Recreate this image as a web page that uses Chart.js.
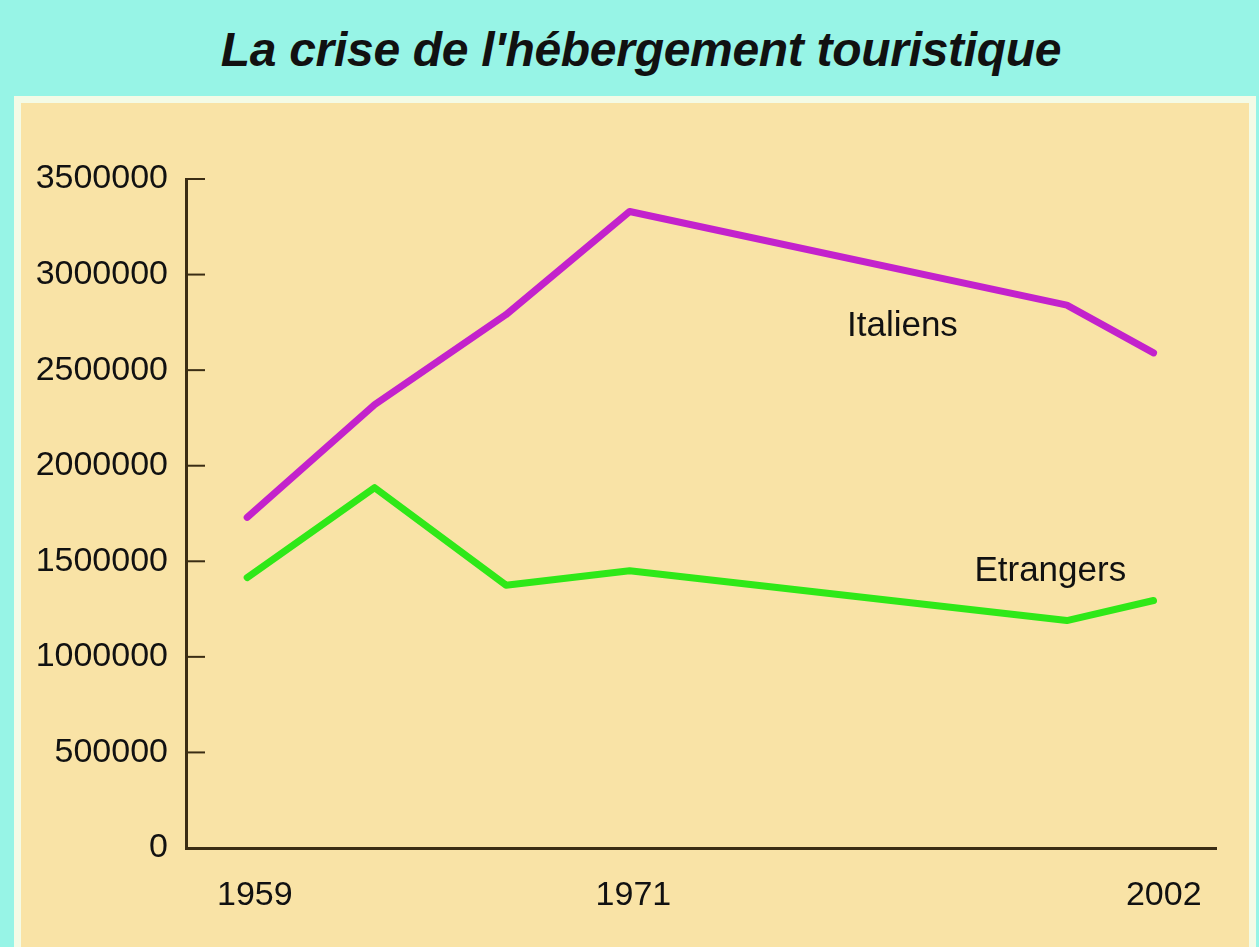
<!DOCTYPE html>
<html>
<head>
<meta charset="utf-8">
<script src="https://cdn.jsdelivr.net/npm/chart.js@4"></script>
<style>
    body { margin: 0; width: 1259px; height: 947px; overflow: hidden; background: #97f4e6; font-family: 'Liberation Sans', Arial, sans-serif; }
    .title {
        position: absolute; left: 0; top: 22px; width: 1282px; text-align: center;
        font-size: 48px; font-weight: bold; font-style: italic; color: #111;
        letter-spacing: -0.3px;
    }
    .panel {
        position: absolute; left: 14px; top: 96px; width: 1228px; height: 860px;
        background: #f9e3a6; border: 7px solid #f4fbe6;
    }
    #wrap { position: absolute; left: 0; top: 0; width: 1259px; height: 947px; }
</style>
</head>
<body>
<div class="title">La crise de l'hébergement touristique</div>
<div class="panel"></div>
<div id="wrap"><canvas id="chart"></canvas></div>

<script>
// positions of the data points along the x axis (the axis is not linear in years)
const xSlots = [0, 1, 2.03, 3, 6.43, 7.11];
const italiens = [1730000, 2320000, 2790000, 3330000, 2840000, 2590000];
const etrangers = [1415000, 1885000, 1375000, 1450000, 1190000, 1295000];

// only three years are labelled under the axis
const xTickSlots = [0.06, 3.03, 7.19];
const xTickLabels = ['1959', '1971', '2002'];

const yTicks = [0, 500000, 1000000, 1500000, 2000000, 2500000, 3000000, 3500000];

// series names written next to the lines (x slot, y value)
const seriesNotes = [
    { text: 'Italiens', x: 5.14, y: 2730000 },
    { text: 'Etrangers', x: 6.3, y: 1445000 }
];

const axisColor = '#3b2d14';
const font = "'Liberation Sans', Arial, sans-serif";

const toPoints = (vals) => vals.map((v, i) => ({ x: xSlots[i], y: v }));

// short tick marks pointing into the plot, plus the series names
const innerTicks = {
    id: 'innerTicks',
    afterDatasetsDraw(chart) {
        const { ctx, chartArea, scales } = chart;
        ctx.save();
        ctx.strokeStyle = axisColor;
        ctx.lineWidth = 2;
        scales.y.ticks.forEach(t => {
            if (t.value === 0) return;
            const y = scales.y.getPixelForValue(t.value);
            ctx.beginPath();
            ctx.moveTo(chartArea.left, y);
            ctx.lineTo(chartArea.left + 19, y);
            ctx.stroke();
        });
        ctx.fillStyle = '#111';
        ctx.font = `35px ${font}`;
        ctx.textAlign = 'center';
        ctx.textBaseline = 'middle';
        seriesNotes.forEach(n => {
            ctx.fillText(n.text, scales.x.getPixelForValue(n.x), scales.y.getPixelForValue(n.y));
        });
        ctx.restore();
    }
};

new Chart(document.getElementById('chart'), {
    type: 'line',
    data: {
        datasets: [
            {
                label: 'Italiens',
                data: toPoints(italiens),
                borderColor: '#c322cc',
                borderWidth: 7,
                pointRadius: 0,
                tension: 0,
                borderJoinStyle: 'round',
                borderCapStyle: 'round'
            },
            {
                label: 'Etrangers',
                data: toPoints(etrangers),
                borderColor: '#2fe818',
                borderWidth: 7,
                pointRadius: 0,
                tension: 0,
                borderJoinStyle: 'round',
                borderCapStyle: 'round'
            }
        ]
    },
    options: {
        responsive: true,
        maintainAspectRatio: false,
        animation: false,
        layout: { padding: { left: 0, right: 43, top: 179, bottom: 0 } },
        plugins: { legend: { display: false }, tooltip: { enabled: false } },
        scales: {
            x: {
                type: 'linear',
                min: -0.48,
                max: 7.6,
                afterFit(scale) { scale.height = 99; },
                afterBuildTicks(scale) { scale.ticks = xTickSlots.map(v => ({ value: v })); },
                grid: { drawOnChartArea: false, drawTicks: false },
                border: { color: axisColor, width: 3 },
                ticks: {
                    padding: 27,
                    color: '#111',
                    font: { family: font, size: 34 },
                    maxRotation: 0,
                    autoSkip: false,
                    callback: (v, i) => xTickLabels[i]
                }
            },
            y: {
                min: 0,
                max: 3500000,
                afterFit(scale) { scale.width = 186; },
                afterBuildTicks(scale) { scale.ticks = yTicks.map(v => ({ value: v })); },
                grid: { drawOnChartArea: false, drawTicks: false },
                border: { color: axisColor, width: 3 },
                ticks: {
                    padding: 18,
                    color: '#111',
                    font: { family: font, size: 34 },
                    callback: (v) => String(v)
                }
            }
        }
    },
    plugins: [innerTicks]
});
</script>
</body>
</html>
